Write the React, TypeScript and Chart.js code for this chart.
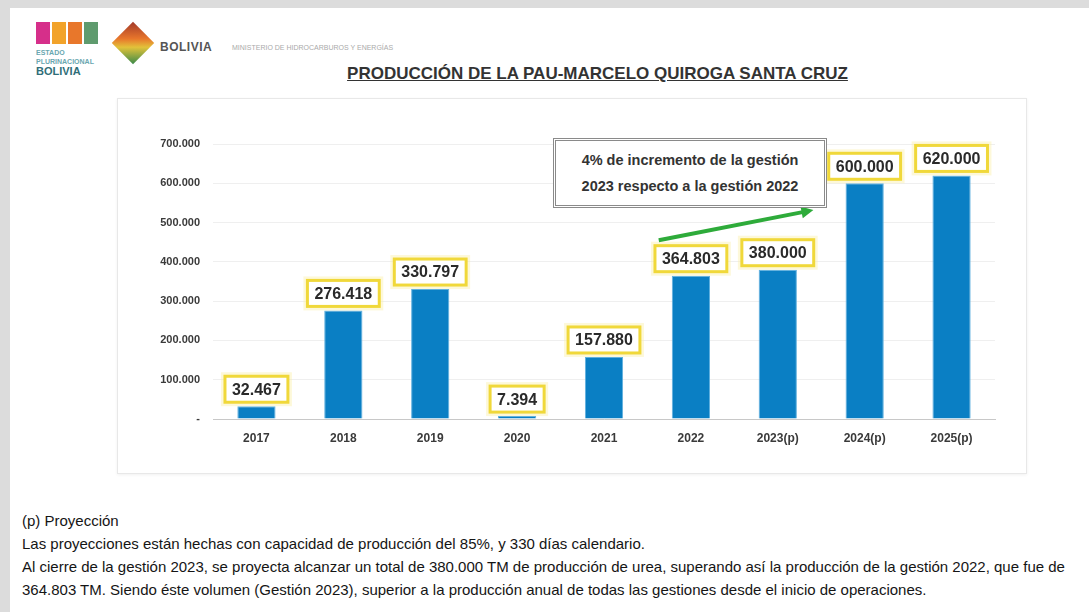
import React, { useEffect, useRef } from "react";
import { Chart, registerables } from "chart.js";

Chart.register(...registerables);

const categories = ["2017", "2018", "2019", "2020", "2021", "2022", "2023(p)", "2024(p)", "2025(p)"];
const production = [32467, 276418, 330797, 7394, 157880, 364803, 380000, 600000, 620000];
const yTicks = [0, 100000, 200000, 300000, 400000, 500000, 600000, 700000];
const titleText = "PRODUCCIÓN DE LA PAU-MARCELO QUIROGA SANTA CRUZ";
const noteLines = [
  "4% de incremento de la gestión",
  "2023 respecto a la gestión 2022",
];
// arrow from (category index, value) to (category index, value)
const arrowFrom = [4.63, 455000];
const arrowTo = [6.41, 532000];
const footerLines = [
  "(p) Proyección",
  "Las proyecciones están hechas con capacidad de producción del 85%, y 330 días calendario.",
  "Al cierre de la gestión 2023, se proyecta alcanzar un total de 380.000 TM de producción de urea, superando así la producción de la gestión 2022, que fue de",
  "364.803 TM. Siendo éste volumen (Gestión 2023), superior a la producción anual de todas las gestiones desde el inicio de operaciones.",
];

const fmt = (v: number) => (v === 0 ? "-" : String(Math.round(v)).replace(/\B(?=(\d{3})+(?!\d))/g, "."));

const labelPlugin = {
  id: "labelBoxes",
  afterDatasetsDraw(chart: any) {
    const ctx = chart.ctx;
    const meta = chart.getDatasetMeta(0);
    ctx.save();
    ctx.font = "bold 16px 'Liberation Sans', Arial, sans-serif";
    ctx.textAlign = "center";
    ctx.textBaseline = "middle";
    meta.data.forEach((bar: any, i: number) => {
      const text = fmt(production[i]);
      const w = ctx.measureText(text).width + 14;
      const h = 26;
      const x = bar.x;
      const bottom = bar.y - 4;
      ctx.fillStyle = "rgba(250,240,170,0.45)";
      ctx.fillRect(x - w / 2 - 4, bottom - h - 4, w + 8, h + 8);
      ctx.fillStyle = "#ffffff";
      ctx.fillRect(x - w / 2, bottom - h, w, h);
      ctx.strokeStyle = "#f0d83a";
      ctx.lineWidth = 3;
      ctx.strokeRect(x - w / 2, bottom - h, w, h);
      ctx.fillStyle = "#2a2a2a";
      ctx.fillText(text, x, bottom - h / 2 + 1);
    });

    const xs = chart.scales.x;
    const ys = chart.scales.y;
    const x1 = xs.getPixelForValue(arrowFrom[0]);
    const y1 = ys.getPixelForValue(arrowFrom[1]);
    const x2 = xs.getPixelForValue(arrowTo[0]);
    const y2 = ys.getPixelForValue(arrowTo[1]);
    const ang = Math.atan2(y2 - y1, x2 - x1);
    const head = 12;
    ctx.strokeStyle = "#2eab3a";
    ctx.fillStyle = "#2eab3a";
    ctx.lineWidth = 4;
    ctx.beginPath();
    ctx.moveTo(x1, y1);
    ctx.lineTo(x2 - head * 0.7 * Math.cos(ang), y2 - head * 0.7 * Math.sin(ang));
    ctx.stroke();
    ctx.beginPath();
    ctx.moveTo(x2, y2);
    ctx.lineTo(x2 - head * Math.cos(ang) + 6 * Math.sin(ang), y2 - head * Math.sin(ang) - 6 * Math.cos(ang));
    ctx.lineTo(x2 - head * Math.cos(ang) - 6 * Math.sin(ang), y2 - head * Math.sin(ang) + 6 * Math.cos(ang));
    ctx.closePath();
    ctx.fill();
    ctx.restore();
  },
};

function BarChart() {
  const ref = useRef<HTMLCanvasElement>(null);
  useEffect(() => {
    if (!ref.current) return;
    const chart = new Chart(ref.current, {
      type: "bar",
      data: {
        labels: categories,
        datasets: [
          {
            data: production,
            backgroundColor: "#0a7fc4",
            borderColor: "#5fb0df",
            borderWidth: 1,
            barPercentage: 0.44,
            categoryPercentage: 1,
          },
        ],
      },
      options: {
        responsive: false,
        animation: false,
        layout: { padding: { left: 0, right: 45, top: 44, bottom: 0 } },
        plugins: { legend: { display: false }, tooltip: { enabled: false }, title: { display: false } },
        scales: {
          x: {
            grid: { display: false },
            border: { display: true, color: "#c8c8c8" },
            ticks: { color: "#3a3a3a", font: { size: 12, weight: "bold", family: "'Liberation Sans', Arial, sans-serif" }, padding: 4 },
            afterFit: (s: any) => {
              s.height = 51;
            },
          },
          y: {
            min: 0,
            max: 700000,
            afterBuildTicks: (s: any) => {
              s.ticks = yTicks.map((v) => ({ value: v }));
            },
            grid: { color: "#efefef", drawTicks: false },
            border: { display: false },
            ticks: {
              color: "#3a3a3a",
              padding: 13,
              font: { size: 11, weight: "bold", family: "'Liberation Sans', Arial, sans-serif" },
              callback: (v: any) => fmt(Number(v)),
            },
            afterFit: (s: any) => {
              s.width = 93;
            },
          },
        },
      },
      plugins: [labelPlugin],
    } as any);
    return () => chart.destroy();
  }, []);
  return <canvas ref={ref} width={920} height={370} style={{ position: "absolute", left: 120, top: 100, width: 920, height: 370 }} />;
}

export default function App() {
  const font = "'Liberation Sans', Arial, sans-serif";
  return (
    <div style={{ position: "fixed", left: 0, top: 0, width: 1089, height: 612, background: "#ffffff", overflow: "hidden", fontFamily: font }}>
      <div style={{ position: "absolute", left: 0, top: 0, width: 1089, height: 8, background: "#dcdcdc" }} />
      <div style={{ position: "absolute", left: 0, top: 0, width: 10, height: 612, background: "#dcdcdc" }} />

      <div style={{ position: "absolute", left: 36, top: 22, width: 62, height: 22, display: "flex", gap: 2 }}>
        <div style={{ flex: 1, background: "#d62f8a" }} />
        <div style={{ flex: 1, background: "#f2a32a" }} />
        <div style={{ flex: 1, background: "#e8772b" }} />
        <div style={{ flex: 1, background: "#5f9b6e" }} />
      </div>
      <div style={{ position: "absolute", left: 36, top: 48, width: 62, fontSize: 11, fontWeight: "bold", color: "#2f6e78", lineHeight: "11px" }}>
        <div style={{ fontSize: 7, color: "#6aa7b0", lineHeight: "9px" }}>ESTADO PLURINACIONAL</div>
        BOLIVIA
      </div>
      <div style={{ position: "absolute", left: 118, top: 28, width: 30, height: 30, transform: "rotate(45deg)", background: "linear-gradient(135deg,#a33a2a 0%,#e8762b 40%,#e2c23a 60%,#3a8a4a 100%)" }} />
      <div style={{ position: "absolute", left: 160, top: 40, fontSize: 12, fontWeight: "bold", color: "#555", letterSpacing: 0.5 }}>BOLIVIA</div>
      <div style={{ position: "absolute", left: 232, top: 44, fontSize: 7, color: "#aaa" }}>MINISTERIO DE HIDROCARBUROS Y ENERGÍAS</div>

      <div style={{ position: "absolute", left: 0, width: 1195, top: 64, textAlign: "center", fontSize: 17, fontWeight: "bold", color: "#333", textDecoration: "underline" }}>
        {titleText}
      </div>

      <div style={{ position: "absolute", left: 117, top: 98, width: 908, height: 374, border: "1px solid #e8e8e8", boxShadow: "0 1px 3px rgba(0,0,0,0.06)" }} />
      <BarChart />

      <div style={{ position: "absolute", left: 553, top: 138, width: 268, height: 64, border: "3px double #8a8a8a", background: "#fff", display: "flex", flexDirection: "column", justifyContent: "center", alignItems: "center", fontSize: 14.5, fontWeight: "bold", color: "#333", lineHeight: "26px" }}>
        {noteLines.map((l, i) => (
          <div key={i}>{l}</div>
        ))}
      </div>

      <div style={{ position: "absolute", left: 22, top: 509, fontSize: 15, color: "#151515", whiteSpace: "nowrap", lineHeight: "23px" }}>
        {footerLines.map((l, i) => (
          <div key={i}>{l}</div>
        ))}
      </div>
    </div>
  );
}
